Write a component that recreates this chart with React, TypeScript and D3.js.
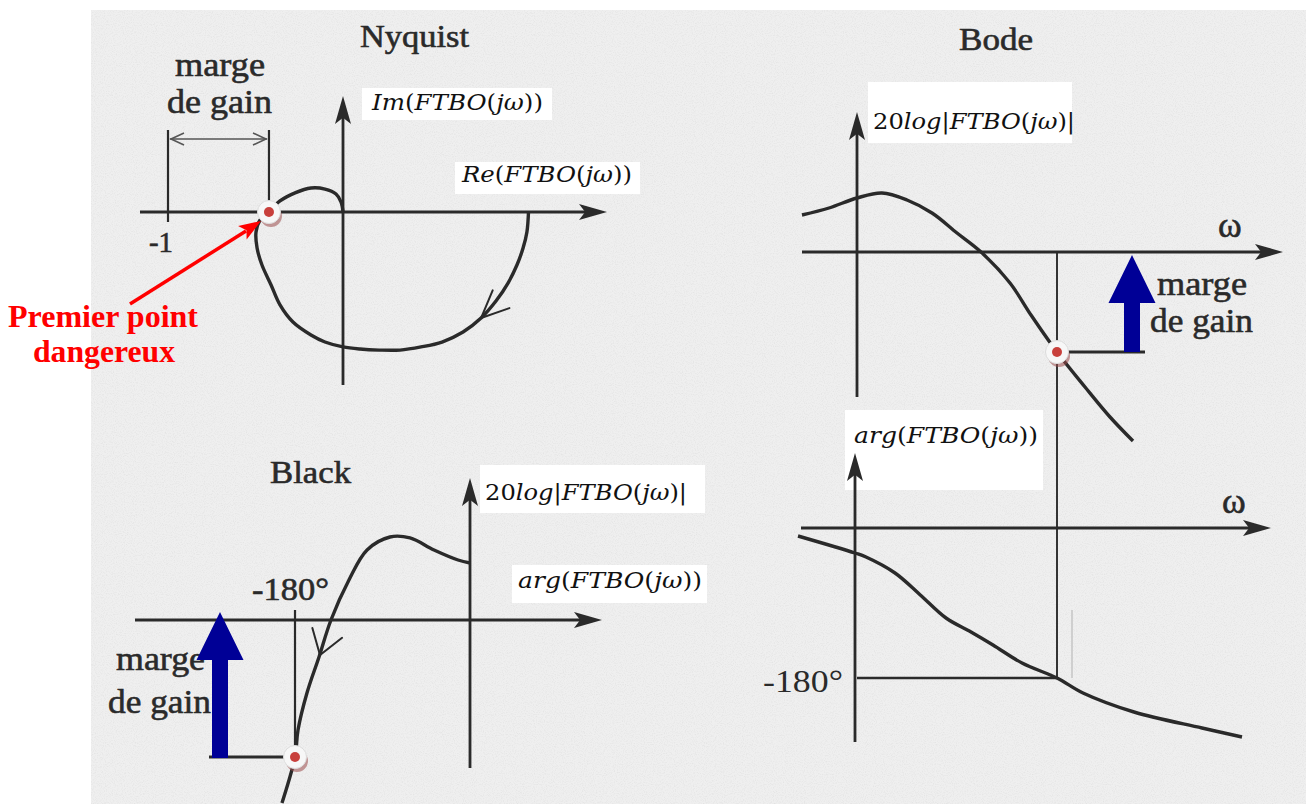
import React from "react";
import * as d3 from "d3";

// ---- Nyquist locus of FTBO(jω), ω increasing (Re, Im in units of |FTBO|) ----
const nyquistRe = [1.06, 1.051, 1.029, 0.994, 0.943, 0.874, 0.789, 0.686, 0.566, 0.446, 0.326, 0.206, 0.097, 0, -0.103, -0.183, -0.286, -0.36, -0.411, -0.463, -0.491, -0.497, -0.474, -0.423, -0.36, -0.274, -0.183, -0.103, -0.04, -0.011, 0];
const nyquistIm = [0, -0.114, -0.206, -0.303, -0.406, -0.509, -0.606, -0.686, -0.743, -0.771, -0.789, -0.789, -0.783, -0.771, -0.743, -0.703, -0.629, -0.531, -0.417, -0.303, -0.206, -0.114, -0.046, 0, 0.063, 0.109, 0.137, 0.131, 0.103, 0.057, 0];
const nyquistCriticalRe = -0.423; // first crossing of the negative real axis
const nyquistArrowIndex = 6;

// ---- Bode magnitude: log10(ω/ωπ) and gain in dB ----
const bodeLogW = [-2.55, -2.28, -2.0, -1.75, -1.5, -1.25, -1.0, -0.76, -0.47, -0.26, 0, 0.28, 0.53, 0.76];
const bodeGainDb = [3.7, 4.4, 5.4, 5.9, 5.2, 3.9, 1.9, 0, -3.1, -6.3, -10, -13.5, -16.5, -18.9];

// ---- Bode phase: log10(ω/ωπ) and phase in degrees ----
const phaseLogW = [-2.59, -2.02, -1.91, -1.62, -1.37, -1.11, -0.86, -0.64, -0.35, 0, 0.26, 0.77, 1.45, 1.85];
const phaseDeg = [-9.6, -30, -34.8, -54, -80, -108, -124.8, -140.4, -162, -180, -198, -220.8, -240, -250.8];

// ---- Black locus: phase (deg) and gain (dB), ω increasing ----
const blackPhase = [0, -12.3, -37.0, -61.7, -82.3, -105.9, -124.5, -143, -155.3, -167.7, -176.9, -180, -193.4];
const blackGain = [4.16, 4.38, 5.11, 5.99, 6.06, 5.11, 2.92, 0, -2.7, -5.33, -8.03, -10, -13.36];
const blackArrowPoint = [-154.3, -2.55];

// gain at the phase crossover (ω = ωπ)
const gainMarginDb = -10;
const criticalPhase = -180;

// labels
const titles = ["Nyquist", "Bode", "Black"];
const marginLabel = ["marge", "de gain"];
const dangerLabel = ["Premier point", "dangereux"];
const tickMinusOne = "-1";
const tick180 = "-180°";
const omega = "ω";

const INK = "#2a2a2a";
const SERIF = "'Liberation Serif', 'Times New Roman', serif";
const MATH = "'DejaVu Serif', 'Liberation Serif', serif";
const BLUE = "#000096";

// Nyquist frame
const xN = d3.scaleLinear().domain([-1, 0]).range([168, 343]);
const yN = d3.scaleLinear().domain([0, 1]).range([212, 37]);
// Bode frames (shared frequency axis)
const xB = d3.scaleLinear().domain([-2, 0]).range([857, 1057]);
const yBm = d3.scaleLinear().domain([0, -10]).range([252, 352]);
const yBp = d3.scaleLinear().domain([0, -180]).range([528, 678]);
// Black frame
const xK = d3.scaleLinear().domain([-180, 0]).range([295, 470]);
const yK = d3.scaleLinear().domain([0, -10]).range([620, 757]);

const smooth = d3.line<[number, number]>().curve(d3.curveCatmullRom.alpha(0.5));

function arrowHead(x: number, y: number, angle: number, len = 28, half = 8) {
  const dx = Math.cos(angle), dy = Math.sin(angle);
  const px = -dy, py = dx;
  const bx = x - len * dx, by = y - len * dy;
  const nx = x - 0.78 * len * dx, ny = y - 0.78 * len * dy;
  return `M${x},${y}L${bx + half * px},${by + half * py}L${nx},${ny}L${bx - half * px},${by - half * py}Z`;
}

function Axis({ x1, y1, x2, y2 }: { x1: number; y1: number; x2: number; y2: number }) {
  const a = Math.atan2(y2 - y1, x2 - x1);
  const ex = x2 - 20 * Math.cos(a), ey = y2 - 20 * Math.sin(a);
  return (
    <g>
      <line x1={x1} y1={y1} x2={ex} y2={ey} stroke={INK} strokeWidth={2.8} />
      <path d={arrowHead(x2, y2, a)} fill={INK} />
    </g>
  );
}

function Chevron({ pts, i, len = 28, spread = 24 }: { pts: [number, number][]; i: number; len?: number; spread?: number }) {
  const [x, y] = pts[i];
  const prev = pts[Math.max(0, i - 1)], next = pts[Math.min(pts.length - 1, i + 1)];
  const back = Math.atan2(prev[1] - next[1], prev[0] - next[0]);
  const s = (spread * Math.PI) / 180;
  const a1 = back + s, a2 = back - s;
  return (
    <path
      d={`M${x + len * Math.cos(a1)},${y + len * Math.sin(a1)}L${x},${y}L${x + len * Math.cos(a2)},${y + len * Math.sin(a2)}`}
      fill="none" stroke={INK} strokeWidth={2} strokeLinecap="round"
    />
  );
}

function Marker({ x, y }: { x: number; y: number }) {
  return (
    <g>
      <circle cx={x + 2} cy={y + 4} r={11} fill="#9a4a4a" opacity={0.55} />
      <circle cx={x} cy={y} r={11.5} fill="#f7f7f7" stroke="#dcdcdc" strokeWidth={1} />
      <circle cx={x} cy={y} r={5} fill="#c8403c" />
    </g>
  );
}

function BlueArrow({ x, yTop, yBottom }: { x: number; yTop: number; yBottom: number }) {
  const headLen = 48, half = 23.5, shaft = 8;
  const d = `M${x},${yTop}L${x + half},${yTop + headLen}L${x + shaft},${yTop + headLen}L${x + shaft},${yBottom}L${x - shaft},${yBottom}L${x - shaft},${yTop + headLen}L${x - half},${yTop + headLen}Z`;
  return <path d={d} fill={BLUE} />;
}

function Scan({ x, y, text, size = 32, len, weight, fill = INK, heavy = true }: { x: number; y: number; text: string; size?: number; len?: number; weight?: string; fill?: string; heavy?: boolean }) {
  return (
    <text x={x} y={y} fontFamily={SERIF} fontSize={size} fontWeight={weight} fill={fill}
      stroke={heavy ? fill : undefined} strokeWidth={heavy ? 0.6 : undefined}
      textLength={len} lengthAdjust={len ? "spacingAndGlyphs" : undefined}>
      {text}
    </text>
  );
}

// formula label made of italic / upright runs
function MathLabel({ x, y, parts, len }: { x: number; y: number; parts: [string, boolean][]; len: number }) {
  return (
    <text x={x} y={y} fontFamily={MATH} fontSize={22} fill="#111" textLength={len} lengthAdjust="spacingAndGlyphs">
      {parts.map(([t, it], k) => (
        <tspan key={k} fontStyle={it ? "italic" : "normal"}>{t}</tspan>
      ))}
    </text>
  );
}

const ftbo: [string, boolean][] = [["(", false], ["FTBO", true], ["(", false], ["jω", true], [")", false]];
const imParts: [string, boolean][] = [["Im", true], ...ftbo, [")", false]];
const reParts: [string, boolean][] = [["Re", true], ...ftbo, [")", false]];
const argParts: [string, boolean][] = [["arg", true], ...ftbo, [")", false]];
const dbParts: [string, boolean][] = [["20", false], ["log", true], ["|", false], ["FTBO", true], ["(", false], ["jω", true], [")|", false]];

export default function App() {
  const nyq: [number, number][] = nyquistRe.map((r, i) => [xN(r), yN(nyquistIm[i])]);
  const mag: [number, number][] = bodeLogW.map((w, i) => [xB(w), yBm(bodeGainDb[i])]);
  const pha: [number, number][] = phaseLogW.map((w, i) => [xB(w), yBp(phaseDeg[i])]);
  const blk: [number, number][] = blackPhase.map((p, i) => [xK(p), yK(blackGain[i])]);

  const critN = xN(nyquistCriticalRe);
  const xPi = xB(0);
  const critBx = xPi, critBy = yBm(gainMarginDb);
  const critKx = xK(criticalPhase), critKy = yK(gainMarginDb);

  // Black chevron sits between two neighbouring samples of the locus
  const blkArrow: [number, number][] = [blk[7], [xK(blackArrowPoint[0]), yK(blackArrowPoint[1])], blk[9]];

  return (
    <svg width={1306} height={804} style={{ position: "absolute", left: 0, top: 0, background: "#ffffff" }}>
      <defs>
        <filter id="paper" x="0" y="0" width="100%" height="100%">
          <feTurbulence type="fractalNoise" baseFrequency="0.9" numOctaves={2} seed={3} result="n" />
          <feColorMatrix in="n" type="matrix"
            values="0 0 0 0 0.55  0 0 0 0 0.55  0 0 0 0 0.55  0 0 0 -1.6 0.9" result="g" />
          <feComposite in="g" in2="SourceGraphic" operator="in" />
        </filter>
      </defs>

      {/* scanned sheet */}
      <rect x={91} y={10} width={1215} height={794} fill="#efefef" />
      <rect x={91} y={10} width={1215} height={794} fill="#efefef" filter="url(#paper)" opacity={0.35} />

      {/* white patches behind the formula labels */}
      <rect x={362} y={88} width={190} height={32} fill="#ffffff" />
      <rect x={455} y={162} width={185} height={32} fill="#ffffff" />
      <rect x={868} y={82} width={204} height={61} fill="#ffffff" />
      <rect x={845} y={410} width={198} height={80} fill="#ffffff" />
      <rect x={480} y={465} width={225} height={48} fill="#ffffff" />
      <rect x={512} y={565} width={195} height={38} fill="#ffffff" />

      {/* ================= Nyquist ================= */}
      <Scan x={360} y={47} text={titles[0]} len={109} />
      <Scan x={175} y={76} text={marginLabel[0]} size={34} len={90} />
      <Scan x={167} y={113} text={marginLabel[1]} size={34} len={105} />
      <Scan x={149} y={252} text={tickMinusOne} size={30} len={24} />
      <MathLabel x={372} y={110} parts={imParts} len={171} />
      <MathLabel x={462} y={182} parts={reParts} len={170} />

      <line x1={xN(-1)} y1={130} x2={xN(-1)} y2={222} stroke={INK} strokeWidth={2.2} />
      <line x1={critN} y1={130} x2={critN} y2={yN(0)} stroke={INK} strokeWidth={2.2} />
      <line x1={xN(-1) + 2} y1={139} x2={critN - 2} y2={139} stroke="#555" strokeWidth={1.6} />
      <path d={`M${xN(-1) + 16},${133}L${xN(-1) + 3},${139}L${xN(-1) + 16},${145}`} fill="none" stroke="#555" strokeWidth={1.6} />
      <path d={`M${critN - 16},${133}L${critN - 3},${139}L${critN - 16},${145}`} fill="none" stroke="#555" strokeWidth={1.6} />

      <Axis x1={140} y1={yN(0)} x2={607} y2={yN(0)} />
      <Axis x1={xN(0)} y1={385} x2={xN(0)} y2={96} />
      <path d={smooth(nyq) ?? ""} fill="none" stroke={INK} strokeWidth={3.4} strokeLinejoin="round" />
      <Chevron pts={nyq} i={nyquistArrowIndex} len={30} />
      <Marker x={critN} y={yN(0)} />

      {/* red annotation */}
      <Scan x={8} y={327} text={dangerLabel[0]} size={32} len={190} weight="bold" fill="#ff0000" heavy={false} />
      <Scan x={33} y={362} text={dangerLabel[1]} size={32} len={142} weight="bold" fill="#ff0000" heavy={false} />
      <line x1={130} y1={304} x2={246} y2={231} stroke="#ff0000" strokeWidth={3.5} />
      <path d={arrowHead(critN - 8, yN(0) + 9, Math.atan2(231 - 304, 246 - 130), 22, 8)} fill="#ff0000" />

      {/* ================= Bode ================= */}
      <Scan x={959} y={50} text={titles[1]} len={74} />
      <MathLabel x={873} y={129} parts={dbParts} len={202} />
      <Scan x={1218} y={237} text={omega} size={36} />
      <Scan x={1157} y={295} text={marginLabel[0]} size={34} len={90} />
      <Scan x={1150} y={332} text={marginLabel[1]} size={34} len={103} />

      <Axis x1={xB(-2)} y1={397} x2={xB(-2)} y2={112} />
      <Axis x1={802} y1={yBm(0)} x2={1283} y2={yBm(0)} />
      <line x1={xPi} y1={yBm(0)} x2={xPi} y2={yBp(-180)} stroke={INK} strokeWidth={1.9} />
      <line x1={critBx} y1={critBy} x2={1145} y2={critBy} stroke={INK} strokeWidth={2.8} />
      <path d={smooth(mag) ?? ""} fill="none" stroke={INK} strokeWidth={3.4} />
      <BlueArrow x={1132} yTop={yBm(0) + 3} yBottom={critBy} />
      <Marker x={critBx} y={critBy} />

      <MathLabel x={854} y={443} parts={argParts} len={184} />
      <Scan x={1222} y={513} text={omega} size={36} />
      <Scan x={763} y={692} text={tick180} size={32} len={80} heavy={false} />
      <Axis x1={xB(-2) - 2} y1={742} x2={xB(-2) - 2} y2={453} />
      <Axis x1={801} y1={yBp(0)} x2={1271} y2={yBp(0)} />
      <line x1={xB(-2)} y1={yBp(-180)} x2={xPi} y2={yBp(-180)} stroke={INK} strokeWidth={2.4} />
      <line x1={1072} y1={610} x2={1072} y2={678} stroke="#cfcfcf" strokeWidth={2} />
      <path d={smooth(pha) ?? ""} fill="none" stroke={INK} strokeWidth={3.4} />

      {/* ================= Black ================= */}
      <Scan x={270} y={483} text={titles[2]} len={81} />
      <MathLabel x={485} y={500} parts={dbParts} len={202} />
      <MathLabel x={518} y={588} parts={argParts} len={184} />
      <Scan x={252} y={600} text={tick180} size={32} len={77} />
      <Scan x={116} y={670} text={marginLabel[0]} size={34} len={89} />
      <Scan x={108} y={713} text={marginLabel[1]} size={34} len={103} />

      <Axis x1={135} y1={yK(0)} x2={602} y2={yK(0)} />
      <Axis x1={xK(0)} y1={768} x2={xK(0)} y2={478} />
      <line x1={critKx} y1={610} x2={critKx} y2={critKy} stroke={INK} strokeWidth={2.2} />
      <line x1={209} y1={critKy} x2={critKx} y2={critKy} stroke={INK} strokeWidth={2.8} />
      <path d={smooth(blk) ?? ""} fill="none" stroke={INK} strokeWidth={3.4} />
      <Chevron pts={blkArrow} i={1} spread={34} />
      <BlueArrow x={220} yTop={yK(0) - 8} yBottom={critKy + 1} />
      <Marker x={critKx} y={critKy} />
    </svg>
  );
}
